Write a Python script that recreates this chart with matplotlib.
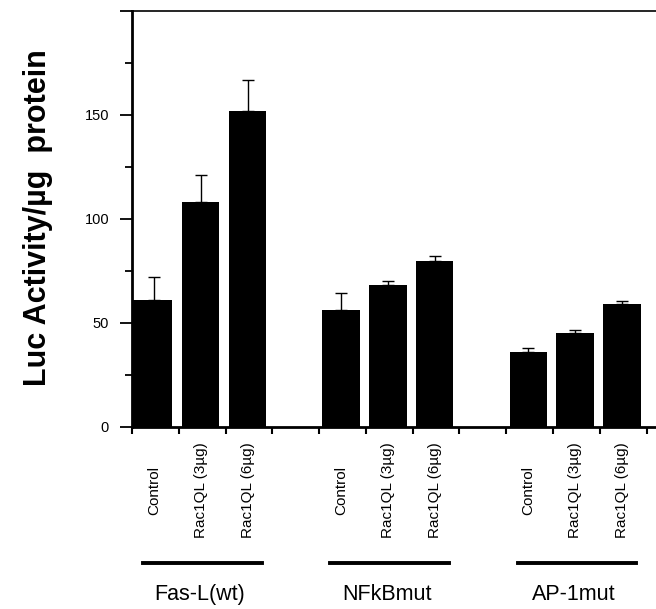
import numpy as np
import matplotlib.pyplot as plt
from matplotlib.ticker import MultipleLocator

plt.rcParams['font.family'] = ['Liberation Sans', 'DejaVu Sans']

# ── Data ─────────────────────────────────────────────
groups = ["Fas-L(wt)", "NFkBmut", "AP-1mut"]
conditions = ["Control", "Rac1QL (3µg)", "Rac1QL (6µg)"]
means = [[61, 108, 152],
         [56, 68, 80],
         [36, 45, 59]]
errs = [[11, 13, 15],
        [8.5, 2, 2],
        [2, 1.7, 1.5]]
yticks = [0, 50, 100, 150, 200]
ytick_labels = ["0", "50", "100", "150", ""]

# ── Layout: 3 bars per group, one empty slot between groups ──
fig = plt.figure(figsize=(6.56, 6.09), dpi=100)
ax = fig.add_axes([0.2012, 0.299, 0.7988, 0.683])
tr = ax.get_xaxis_transform()

slot = 0
for g, name in enumerate(groups):
    xs = np.arange(slot, slot + len(conditions))
    left = xs + 0.07
    width = np.full(len(xs), 0.8)
    # first bar sits right against the y axis
    width[xs == 0] = 0.86
    left[xs == 0] = 0.0
    ax.bar(left, means[g], width=width, align="edge", color="black")
    ax.errorbar(xs + 0.47, means[g],
                yerr=[np.zeros(len(errs[g])), errs[g]],
                fmt="none", ecolor="black", elinewidth=1,
                capsize=4, capthick=1)
    for x, lab in zip(xs, conditions):
        ax.text(x + 0.47, -0.152, lab, rotation=90, ha="center", va="center",
                fontsize=11, transform=tr, clip_on=False)
    ax.plot([xs[0] + 0.24, xs[-1] + 0.77], [-0.327, -0.327], color="black",
            lw=2.8, transform=tr, clip_on=False)
    ax.text(xs[0] + 1.45, -0.404, name, ha="center",
            va="center", fontsize=15.5, transform=tr)
    slot += len(conditions) + 1

ax.set_xlim(0, 11.2)
ax.set_ylim(0, 200)
ax.set_xticks(np.arange(0, 12))
ax.set_xticklabels([])
ax.set_yticks(yticks)
ax.set_yticklabels(ytick_labels)
ax.yaxis.set_minor_locator(MultipleLocator(25))

ax.tick_params(axis="x", direction="out", length=5, width=1.5)
ax.tick_params(axis="y", which="major", direction="out", length=8.5,
               width=1.3, labelsize=10.5, pad=8)
ax.tick_params(axis="y", which="minor", direction="out", length=5, width=1.3)

ax.spines["right"].set_visible(False)
for s in ["left", "bottom"]:
    ax.spines[s].set_linewidth(2)
ax.spines["top"].set_linewidth(1.2)

fig.text(0.058, 0.642, "Luc Activity/µg  protein", rotation=90,
         ha="center", va="center", fontsize=22, fontweight="bold")

fig.savefig("out.png", dpi=100)
